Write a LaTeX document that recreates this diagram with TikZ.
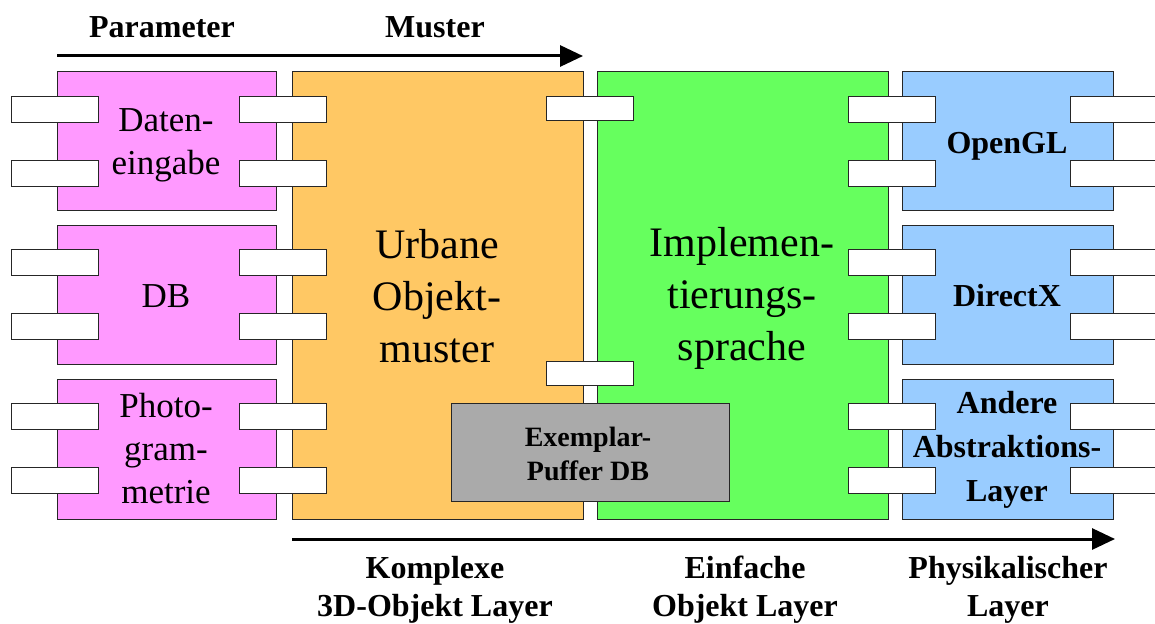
\documentclass[tikz,border=0pt]{standalone}
\usepackage{fontspec}
\setmainfont{Liberation Serif}
\usetikzlibrary{arrows.meta}
\definecolor{cpink}{HTML}{FF99FF}
\definecolor{corange}{HTML}{FFC864}
\definecolor{cgreen}{HTML}{66FF5E}
\definecolor{cblue}{HTML}{99CCFF}
\definecolor{cgray}{HTML}{AAAAAA}
\tikzset{
  blk/.style={draw=black!85, line width=1.4pt, inner sep=0pt, anchor=north west},
  port/.style={blk, fill=white, minimum width=87pt, minimum height=26pt},
  lbl/.style={font=\bfseries\fontsize{32}{38}\selectfont, align=center, inner sep=0pt},
  txt/.style={font=\fontsize{35}{43}\selectfont, align=center, inner sep=0pt},
  btxt/.style={font=\bfseries\fontsize{32}{44}\selectfont, align=center, inner sep=0pt},
  big/.style={font=\fontsize{42}{52}\selectfont, align=center, inner sep=0pt},
  arr/.style={line width=3pt, -{Triangle[length=23pt,width=21pt]}}
}
\begin{document}
\begin{tikzpicture}[x=1pt,y=-1pt]
\useasboundingbox (0,0) rectangle (1155,623);
% main boxes
\node[blk, fill=cpink, minimum width=219pt, minimum height=139pt] (p1) at (57,71) {};
\node[blk, fill=cpink, minimum width=219pt, minimum height=139pt] (p2) at (57,225) {};
\node[blk, fill=cpink, minimum width=219pt, minimum height=140pt] (p3) at (57,379) {};
\node[blk, fill=corange, minimum width=291pt, minimum height=448pt] (ob) at (292,71) {};
\node[blk, fill=cgreen, minimum width=291pt, minimum height=448pt] (gb) at (597,71) {};
\node[blk, fill=cblue, minimum width=211pt, minimum height=139pt] (b1) at (902,71) {};
\node[blk, fill=cblue, minimum width=211pt, minimum height=139pt] (b2) at (902,225) {};
\node[blk, fill=cblue, minimum width=211pt, minimum height=140pt] (b3) at (902,379) {};
% ports
\foreach \y [count=\i] in {96,160,249,313,403,467}{
  \node[port] (pl\i) at (11,\y) {};
  \node[port] (pr\i) at (239,\y) {};
  \node[port] (bl\i) at (848,\y) {};
  \node[port] (br\i) at (1070,\y) {};
}
\node[port, minimum height=24pt] (m1) at (546,96) {};
\node[port, minimum height=24pt] (m2) at (546,361) {};
% gray box
\node[blk, fill=cgray, minimum width=278pt, minimum height=98pt] (gr) at (451,403) {};
% texts
\node[txt] (t1) at (166,145) {Daten-\\eingabe};
\node[txt] (t2) at (166,296) {DB};
\node[txt] (t3) at (166,449) {Photo-\\gram-\\metrie};
\node[big] (t4) at (437,296) {Urbane\\Objekt-\\muster};
\node[big] (t5) at (742,298) {Implemen-\\tierungs-\\sprache};
\node[btxt] (t6) at (1007,146) {OpenGL};
\node[btxt] (t7) at (1007,296) {DirectX};
\node[btxt] (t8) at (1007,450) {Andere\\Abstraktions-\\Layer};
\node[font=\bfseries\fontsize{28}{34}\selectfont, align=center, inner sep=0pt] (t9) at (588,454) {Exemplar-\\Puffer DB};
% arrows
\coordinate (a1) at (57,56);
\coordinate (a2) at (583,56);
\coordinate (c1) at (292,539);
\coordinate (c2) at (1115,539);
\draw[arr] (a1) -- (a2);
\draw[arr] (c1) -- (c2);
% labels
\node[lbl] (l1) at (162,27) {Parameter};
\node[lbl] (l2) at (435,27) {Muster};
\node[lbl] (l3) at (435,590) {Komplexe\\3D-Objekt Layer};
\node[lbl] (l4) at (745,590) {Einfache\\Objekt Layer};
\node[lbl] (l5) at (1008,590) {Physikalischer\\Layer};
\end{tikzpicture}
\end{document}
